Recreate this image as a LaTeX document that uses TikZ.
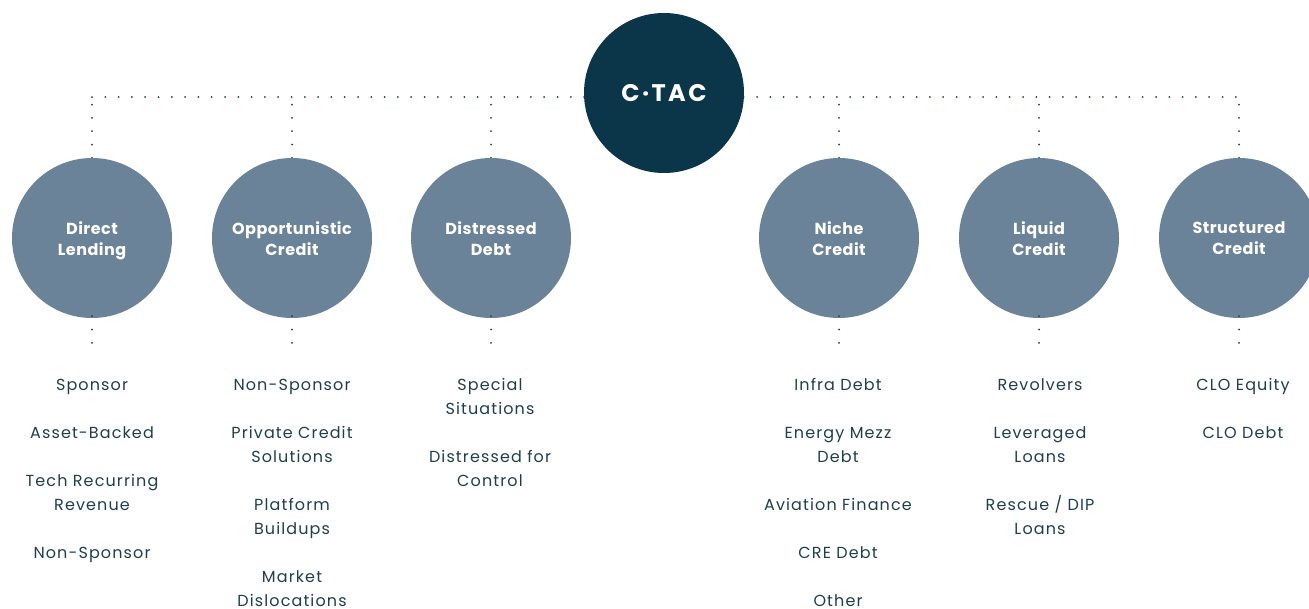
\documentclass[tikz,border=0pt]{standalone}
\usepackage{fontspec}
\setmainfont{Poppins}
\usetikzlibrary{backgrounds,calc}
\definecolor{hubcol}{HTML}{0B3549}
\definecolor{circcol}{HTML}{6B8399}
\definecolor{txtcol}{HTML}{1E3F4E}
\tikzset{
  hubnode/.style={circle, fill=hubcol, minimum size=160pt, inner sep=0pt, text=white,
    font=\fontsize{24}{28}\selectfont\bfseries\addfontfeatures{LetterSpace=10}},
  catnode/.style={circle, fill=circcol, minimum size=160pt, inner sep=0pt},
  catlabel/.style={text=white, align=center, inner sep=0pt, yshift=-3.5pt,
    font=\fontsize{16}{21}\selectfont\bfseries\addfontfeatures{LetterSpace=3},
    execute at begin node=\strut, execute at end node=\strut},
  itemtext/.style={anchor=north, inner sep=0pt, align=center, text=txtcol,
    font=\fontsize{16}{24}\selectfont\addfontfeatures{LetterSpace=7}},
  dotline/.style={draw=txtcol, line width=2pt, line cap=round, dash pattern=on 0pt off 13.3pt}
}
\begin{document}
\begin{tikzpicture}[x=1pt, y=-1pt]
\useasboundingbox (0,0) rectangle (1309,608);
\node[hubnode] (hub) at (664,93) {C·TAC};
\node[catnode, label={[catlabel]center:Direct\\Lending}] (c1) at (92,238) {};
\node[catnode, label={[catlabel]center:Opportunistic\\Credit}] (c2) at (292,238) {};
\node[catnode, label={[catlabel]center:Distressed\\Debt}] (c3) at (491,238) {};
\node[catnode, label={[catlabel]center:Niche\\Credit}] (c4) at (839,238) {};
\node[catnode, label={[catlabel]center:Liquid\\Credit}] (c5) at (1039,238) {};
\node[catnode, label={[catlabel]center:Structured\\Credit}] (c6) at (1239,238) {};
\begin{scope}[on background layer]
  \coordinate (hl) at (92,97);
  \coordinate (hr) at (1239,97);
  \draw[dotline] (hl) -- (hr);
  \foreach \c in {c1,c2,c3,c4,c5,c6} {
    \draw[dotline] (\c.north) -- (\c.north |- hl);
  }
\end{scope}
\foreach \c in {c1,c2,c3,c4,c5,c6} {
  \coordinate (\c b) at ($(\c.south)+(0,30)$);
  \draw[dotline] ([yshift=2pt]\c.south) -- (\c b);
}
\node[itemtext] (i11) at (92,373) {\strut Sponsor};
\node[itemtext] (i12) at (92,421) {\strut Asset-Backed};
\node[itemtext] (i13) at (92,469) {\strut Tech Recurring\\Revenue};
\node[itemtext] (i14) at (92,541) {\strut Non-Sponsor};
\node[itemtext] (i21) at (292,373) {\strut Non-Sponsor};
\node[itemtext] (i22) at (292,421) {\strut Private Credit\\Solutions};
\node[itemtext] (i23) at (292,493) {\strut Platform\\Buildups};
\node[itemtext] (i24) at (292,565) {\strut Market\\Dislocations};
\node[itemtext] (i31) at (490,373) {\strut Special\\Situations};
\node[itemtext] (i32) at (490,445) {\strut Distressed for\\Control};
\node[itemtext] (i41) at (838,373) {\strut Infra Debt};
\node[itemtext] (i42) at (838,421) {\strut Energy Mezz\\Debt};
\node[itemtext] (i43) at (838,493) {\strut Aviation Finance};
\node[itemtext] (i44) at (838,541) {\strut CRE Debt};
\node[itemtext] (i45) at (838,589) {\strut Other};
\node[itemtext] (i51) at (1040,373) {\strut Revolvers};
\node[itemtext] (i52) at (1040,421) {\strut Leveraged\\Loans};
\node[itemtext] (i53) at (1040,493) {\strut Rescue / DIP\\Loans};
\node[itemtext] (i61) at (1243,373) {\strut CLO Equity};
\node[itemtext] (i62) at (1243,421) {\strut CLO Debt};
\end{tikzpicture}
\end{document}
